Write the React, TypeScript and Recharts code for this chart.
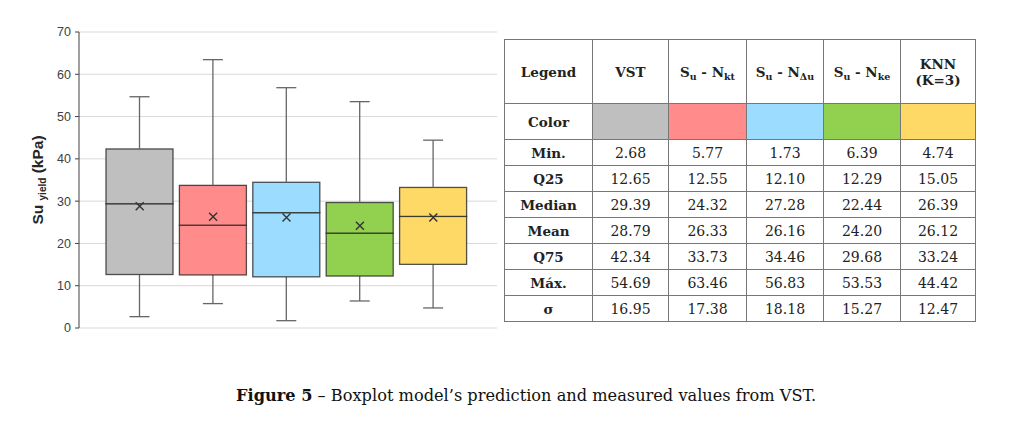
import React from 'react'
import { ComposedChart, Bar, Line, XAxis, YAxis, CartesianGrid } from 'recharts'

const categories = ['VST', 'Su - Nkt', 'Su - NΔu', 'Su - Nke', 'KNN (K=3)']
const minVals = [2.68, 5.77, 1.73, 6.39, 4.74]
const q25Vals = [12.65, 12.55, 12.1, 12.29, 15.05]
const medianVals = [29.39, 24.32, 27.28, 22.44, 26.39]
const meanVals = [28.79, 26.33, 26.16, 24.2, 26.12]
const q75Vals = [42.34, 33.73, 34.46, 29.68, 33.24]
const maxVals = [54.69, 63.46, 56.83, 53.53, 44.42]
const sigmaVals = [16.95, 17.38, 18.18, 15.27, 12.47]
const yTicks = [0, 10, 20, 30, 40, 50, 60, 70]

const COLORS = ['#BFBFBF', '#FF8B8B', '#9BDCFF', '#92D050', '#FFD966']
const BOX_STROKE = 'rgba(40,40,40,0.8)'
const WHISKER = '#666666'

const data = categories.map((name, i) => ({
  name,
  base: minVals[i],
  lowWhisker: q25Vals[i] - minVals[i],
  lowBox: medianVals[i] - q25Vals[i],
  highBox: q75Vals[i] - medianVals[i],
  highWhisker: maxVals[i] - q75Vals[i],
  mean: meanVals[i],
}))

const Empty = () => <g />

const BoxPart = (props: any) => {
  const { x, y, width, height, index } = props
  return (
    <rect x={x} y={y} width={width} height={height} fill={COLORS[index]} stroke={BOX_STROKE} strokeWidth={1.3} />
  )
}

const LowWhisker = (props: any) => {
  const { x, y, width, height } = props
  const cx = x + width / 2
  return (
    <g stroke={WHISKER} strokeWidth={1.3}>
      <line x1={cx} y1={y} x2={cx} y2={y + height} />
      <line x1={cx - 10} y1={y + height} x2={cx + 10} y2={y + height} />
    </g>
  )
}

const HighWhisker = (props: any) => {
  const { x, y, width, height } = props
  const cx = x + width / 2
  return (
    <g stroke={WHISKER} strokeWidth={1.3}>
      <line x1={cx} y1={y} x2={cx} y2={y + height} />
      <line x1={cx - 10} y1={y} x2={cx + 10} y2={y} />
    </g>
  )
}

const MeanMark = (props: any) => {
  const { cx, cy, index } = props
  const s = 4
  return (
    <path
      key={`m${index}`}
      d={`M${cx - s},${cy - s}L${cx + s},${cy + s}M${cx - s},${cy + s}L${cx + s},${cy - s}`}
      stroke="#333"
      strokeWidth={1.4}
      fill="none"
    />
  )
}

const YLabel = (props: any) => {
  const vb = props.viewBox
  const cx = vb.x + 35
  const cy = vb.y + vb.height / 2
  return (
    <text
      x={cx}
      y={cy}
      transform={`rotate(-90 ${cx} ${cy})`}
      textAnchor="middle"
      fontFamily="Liberation Sans, Arial, sans-serif"
      fontWeight="bold"
      fontSize={15.5}
      fill="#262626"
    >
      <tspan>Su </tspan>
      <tspan fontSize={10} dy={3}>yield</tspan>
      <tspan dy={-3}> (kPa)</tspan>
    </text>
  )
}

const serif = '"DejaVu Serif", serif'
const cell: React.CSSProperties = {
  border: '1px solid #777',
  textAlign: 'center',
  verticalAlign: 'middle',
  padding: 0,
  fontSize: 14,
  color: '#222',
}
const headCell: React.CSSProperties = { ...cell, fontWeight: 'bold', fontSize: 13.5 }

const Sub = ({ children }: { children: React.ReactNode }) => (
  <sub style={{ fontSize: 9.5, verticalAlign: 'baseline', position: 'relative', top: 3 }}>{children}</sub>
)

const headers: React.ReactNode[] = [
  'VST',
  <>S<Sub>u</Sub> - N<Sub>kt</Sub></>,
  <>S<Sub>u</Sub> - N<Sub>Δu</Sub></>,
  <>S<Sub>u</Sub> - N<Sub>ke</Sub></>,
  <>KNN<br />(K=3)</>,
]

const statRows: [string, number[]][] = [
  ['Min.', minVals],
  ['Q25', q25Vals],
  ['Median', medianVals],
  ['Mean', meanVals],
  ['Q75', q75Vals],
  ['Máx.', maxVals],
  ['σ', sigmaVals],
]

export default function App() {
  return (
    <div style={{ position: 'relative', width: 1008, height: 411 }}>
      <div style={{ position: 'absolute', left: 0, top: 0 }}>
        <ComposedChart width={500} height={340} data={data} margin={{ top: 24, right: 11, bottom: 20, left: 0 }}>
          <CartesianGrid vertical={false} stroke="#D9D9D9" />
          <XAxis dataKey="name" hide padding={{ left: 24, right: 27 }} />
          <YAxis
            width={71}
            domain={[0, 70]}
            ticks={yTicks}
            interval={0}
            tickSize={4}
            tickMargin={4}
            axisLine={{ stroke: '#404040' }}
            tickLine={{ stroke: '#404040' }}
            tick={{ fill: '#404040', fontSize: 12.5, fontFamily: 'Liberation Sans, Arial, sans-serif' }}
            label={{ content: YLabel }}
          />
          <Bar dataKey="base" stackId="a" barSize={67} shape={Empty} isAnimationActive={false} />
          <Bar dataKey="lowWhisker" stackId="a" barSize={67} shape={LowWhisker} isAnimationActive={false} />
          <Bar dataKey="lowBox" stackId="a" barSize={67} shape={BoxPart} isAnimationActive={false} />
          <Bar dataKey="highBox" stackId="a" barSize={67} shape={BoxPart} isAnimationActive={false} />
          <Bar dataKey="highWhisker" stackId="a" barSize={67} shape={HighWhisker} isAnimationActive={false} />
          <Line dataKey="mean" stroke="none" dot={MeanMark} activeDot={false} isAnimationActive={false} />
        </ComposedChart>
      </div>
      <table
        style={{
          position: 'absolute',
          left: 496,
          top: 31,
          width: 471,
          height: 283,
          borderCollapse: 'collapse',
          tableLayout: 'fixed',
          fontFamily: serif,
          border: '1.5px solid #555',
        }}
      >
        <colgroup>
          {[88, 76, 78, 77, 77, 75].map((w, i) => (
            <col key={i} style={{ width: w }} />
          ))}
        </colgroup>
        <tbody>
          <tr style={{ height: 64 }}>
            <td style={headCell}>Legend</td>
            {headers.map((h, i) => (
              <td key={i} style={headCell}>{h}</td>
            ))}
          </tr>
          <tr style={{ height: 36 }}>
            <td style={headCell}>Color</td>
            {COLORS.map((c, i) => (
              <td key={i} style={{ ...cell, background: c }} />
            ))}
          </tr>
          {statRows.map(([label, vals]) => (
            <tr key={label} style={{ height: 26 }}>
              <td style={headCell}>{label}</td>
              {vals.map((v, i) => (
                <td key={i} style={cell}>{v.toFixed(2)}</td>
              ))}
            </tr>
          ))}
        </tbody>
      </table>
      <div
        style={{
          position: 'absolute',
          left: 228,
          top: 378,
          fontFamily: serif,
          fontSize: 16.2,
          color: '#111',
          whiteSpace: 'nowrap',
        }}
      >
        <b>Figure 5</b> – Boxplot model’s prediction and measured values from VST.
      </div>
    </div>
  )
}
